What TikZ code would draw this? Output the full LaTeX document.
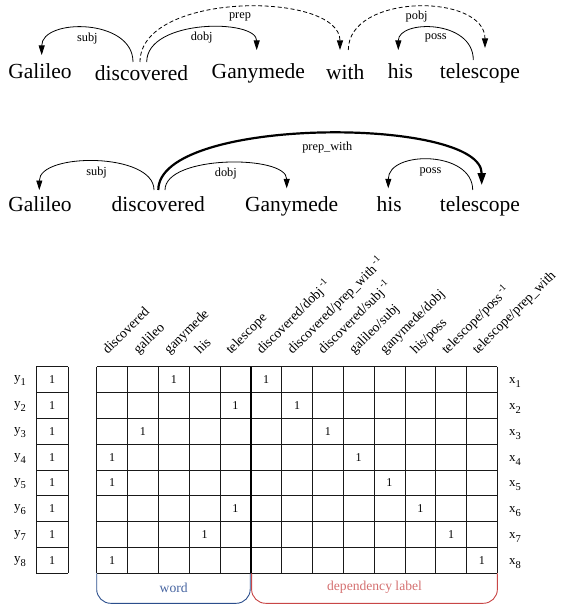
\documentclass[tikz,border=0pt]{standalone}
\usepackage{fontspec}
\setmainfont{Liberation Serif}
\usetikzlibrary{arrows.meta}
\definecolor{brblue}{RGB}{43,78,140}
\definecolor{txblue}{RGB}{70,100,160}
\definecolor{brred}{RGB}{200,70,70}
\definecolor{txred}{RGB}{212,112,112}
\begin{document}
\begin{tikzpicture}[x=1pt,y=-1pt,
  word/.style={font=\fontsize{21.5}{24}\selectfont, inner sep=0pt, anchor=base},
  lbl/.style={font=\fontsize{12.3}{14}\selectfont, inner sep=0pt},
  arc/.style={line width=0.8pt, -{Triangle[length=9.5pt,width=6pt]}},
  darc/.style={arc, dash pattern=on 4pt off 2.5pt},
  bigarc/.style={line width=2.2pt, -{Triangle[length=12pt,width=8pt]}},
  hdr/.style={font=\fontsize{13.8}{15}\selectfont, rotate=45, anchor=base west, inner sep=0pt},
  one/.style={font=\fontsize{12}{14}\selectfont, inner sep=0pt},
  gridline/.style={line width=0.8pt, black!90},
  sepline/.style={line width=1.8pt, black},
  varlbl/.style={font=\fontsize{13}{15}\selectfont, inner sep=0pt},
  brace/.style={line width=0.9pt, rounded corners=14pt},
]
\useasboundingbox (0,0) rectangle (579,607);

% ---------- sentence 1 ----------
\node[word] (g1) at (40,79) {Galileo};
\node[word] (d1) at (141.5,81) {discovered};
\node[word] (n1) at (258.3,79) {Ganymede};
\node[word] (w1) at (345.3,80) {with};
\node[word] (h1) at (400.5,79) {his};
\node[word] (t1) at (479.8,79) {telescope};

\draw[arc] ([xshift=-8.5pt,yshift=19pt]d1.base) .. controls +(0,-44) and +(0,-37) .. ([xshift=1.7pt,yshift=24pt]g1.base)
  node[lbl,pos=0.5,yshift=-10pt] (ls1) {subj};
\draw[arc] ([xshift=5.2pt,yshift=19pt]d1.base) .. controls +(0,-43.3) and +(0,-31.3) .. ([xshift=-1.6pt,yshift=29pt]n1.base)
  node[lbl,pos=0.5,yshift=-10pt] (ld1) {dobj};
\draw[darc] ([xshift=-1.5pt,yshift=19pt]d1.base) .. controls +(0,-71) and +(0,-59) .. ([xshift=-5.3pt,yshift=30pt]w1.base)
  node[lbl,pos=0.5,yshift=-9.5pt] (lp1) {prep};
\draw[darc] ([xshift=3pt,yshift=30pt]w1.base) .. controls +(0,-57) and +(0,-55) .. ([xshift=5.2pt,yshift=31pt]t1.base)
  node[lbl,pos=0.5,yshift=-9.5pt] (lo1) {pobj};
\draw[arc] ([xshift=-6.5pt,yshift=19pt]t1.base) .. controls +(0,-40.6) and +(0,-30.6) .. ([xshift=-2.2pt,yshift=29pt]h1.base)
  node[lbl,pos=0.5,yshift=-10pt] (lq1) {poss};

% ---------- sentence 2 ----------
\node[word] (g2) at (40,211.7) {Galileo};
\node[word] (d2) at (158.3,211.7) {discovered};
\node[word] (n2) at (291.7,211.7) {Ganymede};
\node[word] (h2) at (389.2,211.7) {his};
\node[word] (t2) at (479.8,211.7) {telescope};

\draw[arc] ([xshift=-4.3pt,yshift=21.7pt]d2.base) .. controls +(0,-37.7) and +(0,-37.7) .. ([xshift=-0.7pt,yshift=21.7pt]g2.base)
  node[lbl,pos=0.5,yshift=-11pt] (ls2) {subj};
\draw[arc] ([xshift=6.7pt,yshift=21.7pt]d2.base) .. controls +(0,-35.3) and +(0,-33.6) .. ([xshift=-5pt,yshift=23.4pt]n2.base)
  node[lbl,pos=0.5,yshift=-10pt] (ld2) {dobj};
\draw[bigarc] ([yshift=21.7pt]d2.base) .. controls +(0,-73.9) and +(0,-68.9) .. ([xshift=1.9pt,yshift=26.7pt]t2.base)
  node[lbl,pos=0.515,yshift=-14pt] (lp2) {prep\_with};
\draw[arc] ([xshift=-7.1pt,yshift=21.7pt]t2.base) .. controls +(0,-39.7) and +(0,-38) .. ([xshift=-0.9pt,yshift=23.4pt]h2.base)
  node[lbl,pos=0.5,yshift=-11.5pt] (lq2) {poss};

% ---------- matrix ----------
\def\mx{96.7}\def\my{366.7}\def\cw{30.82}\def\rh{25.83}
\foreach \i in {0,...,13}
  \draw[gridline] ({\mx+\i*\cw},\my) -- ({\mx+\i*\cw},{\my+8*\rh});
\foreach \j in {0,...,8}
  \draw[gridline] (\mx,{\my+\j*\rh}) -- ({\mx+13*\cw},{\my+\j*\rh});
\draw[sepline] ({\mx+5*\cw},\my) -- ({\mx+5*\cw},{\my+8*\rh});

% bias column
\foreach \i in {36,68}
  \draw[gridline] (\i,\my) -- (\i,{\my+8*\rh});
\foreach \j in {0,...,8}
  \draw[gridline] (36,{\my+\j*\rh}) -- (68,{\my+\j*\rh});

% headers
\foreach \i/\t in {1/{discovered},2/{galileo},3/{ganymede},4/{his},5/{telescope},
  6/{discovered/dobj\kern2pt\textsuperscript{-1}},
  7/{discovered/prep\_with\kern2pt\textsuperscript{-1}},
  8/{discovered/subj\kern2pt\textsuperscript{-1}},
  9/{galileo/subj},10/{ganymede/dobj},11/{his/poss},
  12/{telescope/poss\kern2pt\textsuperscript{-1}},
  13/{telescope/prep\_with}}
  \node[hdr] (hd\i) at ({\mx+(\i-0.5)*\cw-4.5},355) {\t};

% entries
\foreach \r/\a/\b in {1/3/6,2/5/7,3/2/8,4/1/9,5/1/10,6/5/11,7/4/12,8/1/13}{
  \node[one] (wa\r) at ({\mx+(\a-0.5)*\cw},{\my+(\r-0.5)*\rh}) {1};
  \node[one] (la\r) at ({\mx+(\b-0.5)*\cw},{\my+(\r-0.5)*\rh}) {1};
  \node[one] (bi\r) at (52,{\my+(\r-0.5)*\rh}) {1};
  \node[varlbl] (yl\r) at (20,{\my+(\r-0.5)*\rh+1}) {y\raisebox{-4pt}{\fontsize{10.5}{12}\selectfont\r}};
  \node[varlbl] (xl\r) at (515,{\my+(\r-0.5)*\rh+3}) {x\raisebox{-4pt}{\fontsize{10.5}{12}\selectfont\r}};
}

% brackets
\draw[brace, brblue] (\mx,{\my+8*\rh}) -- (\mx,603.3) -- (250.2,603.3) -- (250.2,{\my+8*\rh});
\draw[brace, brred] (251.6,{\my+8*\rh}) -- (251.6,603.3) -- ({\mx+13*\cw},603.3) -- ({\mx+13*\cw},{\my+8*\rh});
\node[font=\fontsize{13.6}{15}\selectfont, text=txblue] (wordlbl) at (173.7,587.5) {word};
\node[font=\fontsize{13.6}{15}\selectfont, text=txred] (deplbl) at (374.5,587.5) {dependency label};
\end{tikzpicture}
\end{document}
